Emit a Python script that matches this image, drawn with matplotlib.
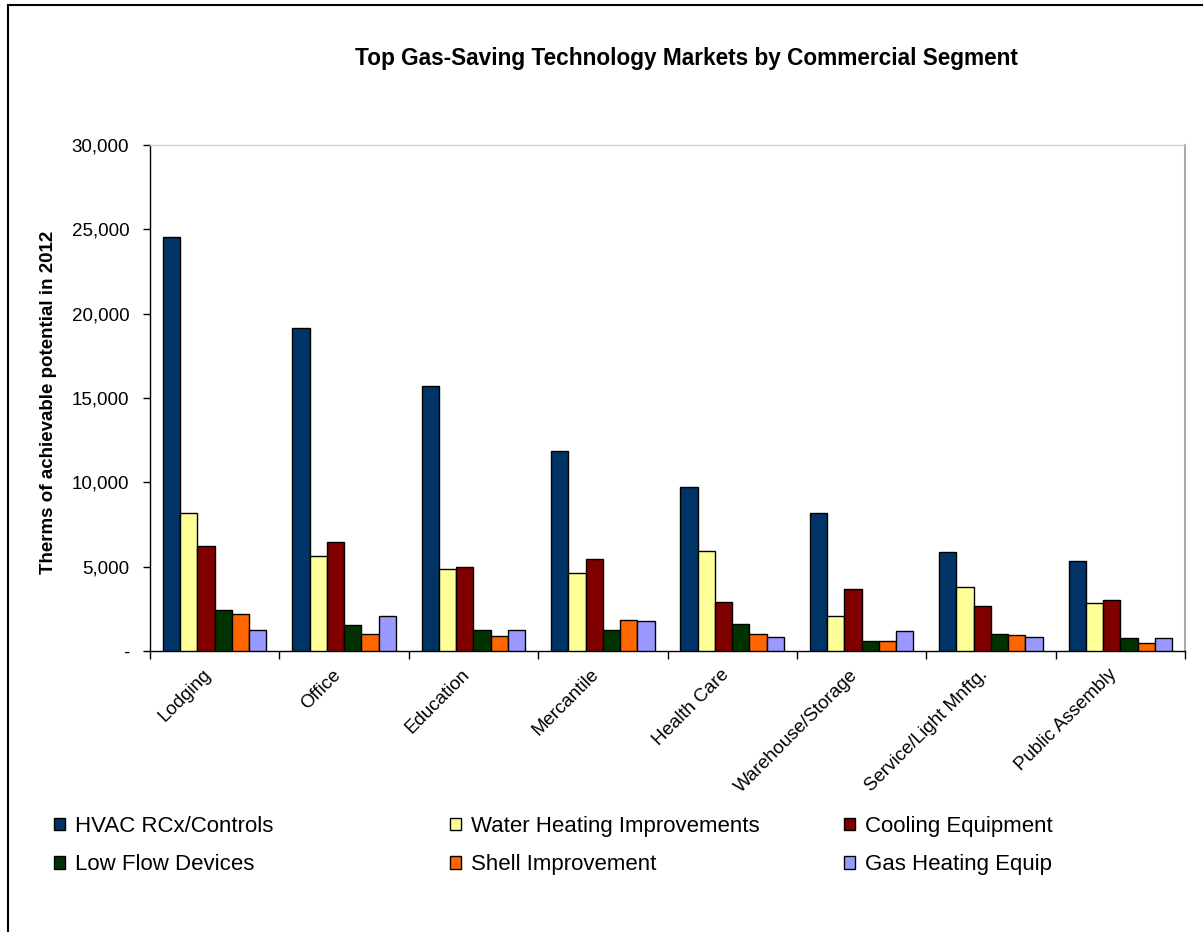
import matplotlib
matplotlib.use("Agg")
import matplotlib.pyplot as plt
from matplotlib.patches import Rectangle, Patch
from matplotlib.ticker import FuncFormatter, FixedLocator
import numpy as np

plt.rcParams['font.family'] = ['Liberation Sans', 'DejaVu Sans']

# Therms of achievable potential in 2012, by segment
segments = ['Lodging', 'Office', 'Education', 'Mercantile', 'Health Care',
            'Warehouse/Storage', 'Service/Light Mnftg.', 'Public Assembly']
hvac_rcx = [24550, 19150, 15700, 11850, 9700, 8200, 5850, 5350]
water_heating = [8200, 5630, 4880, 4600, 5950, 2080, 3780, 2850]
cooling_equip = [6230, 6480, 4980, 5450, 2930, 3680, 2670, 3020]
low_flow = [2430, 1520, 1260, 1270, 1600, 580, 1030, 750]
shell_improve = [2190, 1030, 870, 1860, 1000, 570, 930, 500]
gas_heating = [1250, 2090, 1260, 1760, 830, 1170, 830, 750]

series = [
    ('HVAC RCx/Controls', hvac_rcx, '#003366'),
    ('Water Heating Improvements', water_heating, '#FFFF99'),
    ('Cooling Equipment', cooling_equip, '#800000'),
    ('Low Flow Devices', low_flow, '#003300'),
    ('Shell Improvement', shell_improve, '#FF6600'),
    ('Gas Heating Equip', gas_heating, '#9999FF'),
]

W, H = 1203, 932
fig = plt.figure(figsize=(W / 100, H / 100), dpi=100)
ax = fig.add_axes([150 / W, 1 - 651 / H, (1185 - 150) / W, (651 - 145) / H])

n = len(series)
bar_w = 1 / (n + 1.5)
x = np.arange(len(segments))
for k, (name, vals, col) in enumerate(series):
    ax.bar(x - 0.5 + 0.75 * bar_w + (k + 0.5) * bar_w, vals, width=bar_w,
           color=col, edgecolor='black', linewidth=1.0, label=name, zorder=3)

ax.set_xlim(-0.5, len(segments) - 0.5)
ax.set_ylim(0, 30000)
ax.set_yticks(np.arange(0, 30001, 5000))
ax.yaxis.set_major_formatter(FuncFormatter(lambda v, p: '-' if v == 0 else f'{int(v):,}'))
ax.tick_params(axis='y', direction='out', length=5, width=1, pad=10, labelsize=13.5)

# group boundaries as major ticks, names on minor ticks at group centres
ax.xaxis.set_major_locator(FixedLocator(np.arange(-0.5, len(segments), 1.0)))
ax.tick_params(axis='x', which='major', direction='out', length=6, width=1, labelbottom=False)
ax.tick_params(axis='x', which='minor', length=0, pad=11, labelsize=13.5)
ax.set_xticks(x, minor=True)
ax.set_xticklabels(segments, minor=True, rotation=45, ha='right', va='top')

for side in ['left', 'bottom']:
    ax.spines[side].set_color('black')
    ax.spines[side].set_linewidth(1)
ax.spines['top'].set_color('#d0d0d0')
ax.spines['top'].set_linewidth(1)
ax.spines['right'].set_color('#a8a8a8')
ax.spines['right'].set_linewidth(1.5)

fig.text(686 / W, 1 - 58 / H, 'Top Gas-Saving Technology Markets by Commercial Segment',
         ha='center', va='center', fontsize=16.3, fontweight='bold')
fig.text(49 / W, 1 - 402 / H, 'Therms of achievable potential in 2012',
         ha='center', va='center', rotation=90, fontsize=13.5, fontweight='bold')

# legend: three columns of two rows, laid out like the spreadsheet legend
handles = [Patch(facecolor=c, edgecolor='black', linewidth=1, label=nm) for nm, _, c in series]
col_x = [54, 450, 844]
for c in range(3):
    fig.legend(handles=[handles[c], handles[c + 3]], loc='upper left',
               bbox_to_anchor=(col_x[c] / W, 1 - 816 / H), frameon=False,
               fontsize=16, handlelength=0.5, handleheight=0.5, handletextpad=0.45,
               borderpad=0, borderaxespad=0, labelspacing=0.78)

# outer chart border
fig.patches.append(Rectangle((8 / W, -0.01), 1.2, 1 - 5 / H + 0.01, transform=fig.transFigure,
                             fill=False, edgecolor='black', linewidth=1.5))

fig.savefig('out.png', dpi=100)
